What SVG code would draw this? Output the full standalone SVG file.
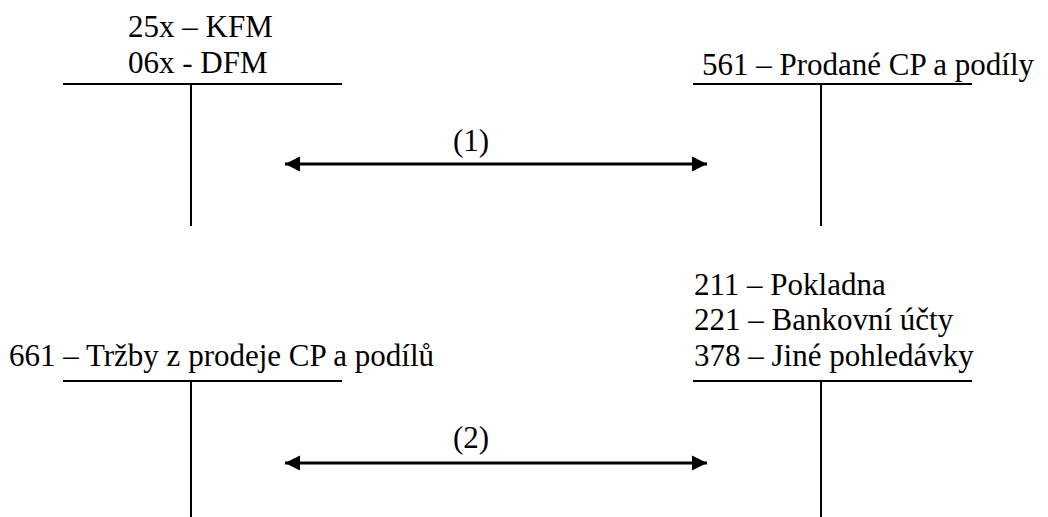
<svg xmlns="http://www.w3.org/2000/svg" width="1048" height="517" viewBox="0 0 1048 517">
  <style>
    text { font-family: 'Liberation Serif', 'Times New Roman', serif; font-size: 31px; fill: #000; }
    .acct { stroke: #000; stroke-width: 2; fill: none; }
    .flow { stroke: #000; stroke-width: 3; fill: none; }
  </style>
  <defs>
    <marker id="head" viewBox="0 0 10 10" refX="10" refY="5" markerWidth="5" markerHeight="5.2" orient="auto-start-reverse" markerUnits="strokeWidth">
      <path d="M0,0 L10,5 L0,10 Z" fill="#000"/>
    </marker>
  </defs>
  <rect width="1048" height="517" fill="#fff"/>

  <!-- T-account: financial assets -->
  <g id="acct-25x">
    <text x="128" y="37">25x – KFM</text>
    <text x="128" y="73">06x - DFM</text>
    <path class="acct" d="M63,84 H342 M191,84 V226"/>
  </g>

  <!-- T-account: securities sold -->
  <g id="acct-561">
    <text x="702" y="75">561 – Prodané CP a podíly</text>
    <path class="acct" d="M693,84 H972 M821,84 V226"/>
  </g>

  <!-- T-account: revenue from sale -->
  <g id="acct-661">
    <text x="9" y="366">661 – Tržby z prodeje CP a podílů</text>
    <path class="acct" d="M63,381 H342 M191,381 V517"/>
  </g>

  <!-- T-account: cash / bank / receivables -->
  <g id="acct-211">
    <text x="694" y="295">211 – Pokladna</text>
    <text x="694" y="330">221 – Bankovní účty</text>
    <text x="694" y="366">378 – Jiné pohledávky</text>
    <path class="acct" d="M693,381 H972 M821,381 V517"/>
  </g>

  <!-- transfers between accounts -->
  <g id="connectors">
    <path class="flow" d="M285,164 H707" marker-start="url(#head)" marker-end="url(#head)"/>
    <text x="453" y="151">(1)</text>
    <path class="flow" d="M285,463 H707" marker-start="url(#head)" marker-end="url(#head)"/>
    <text x="453" y="448">(2)</text>
  </g>
</svg>
